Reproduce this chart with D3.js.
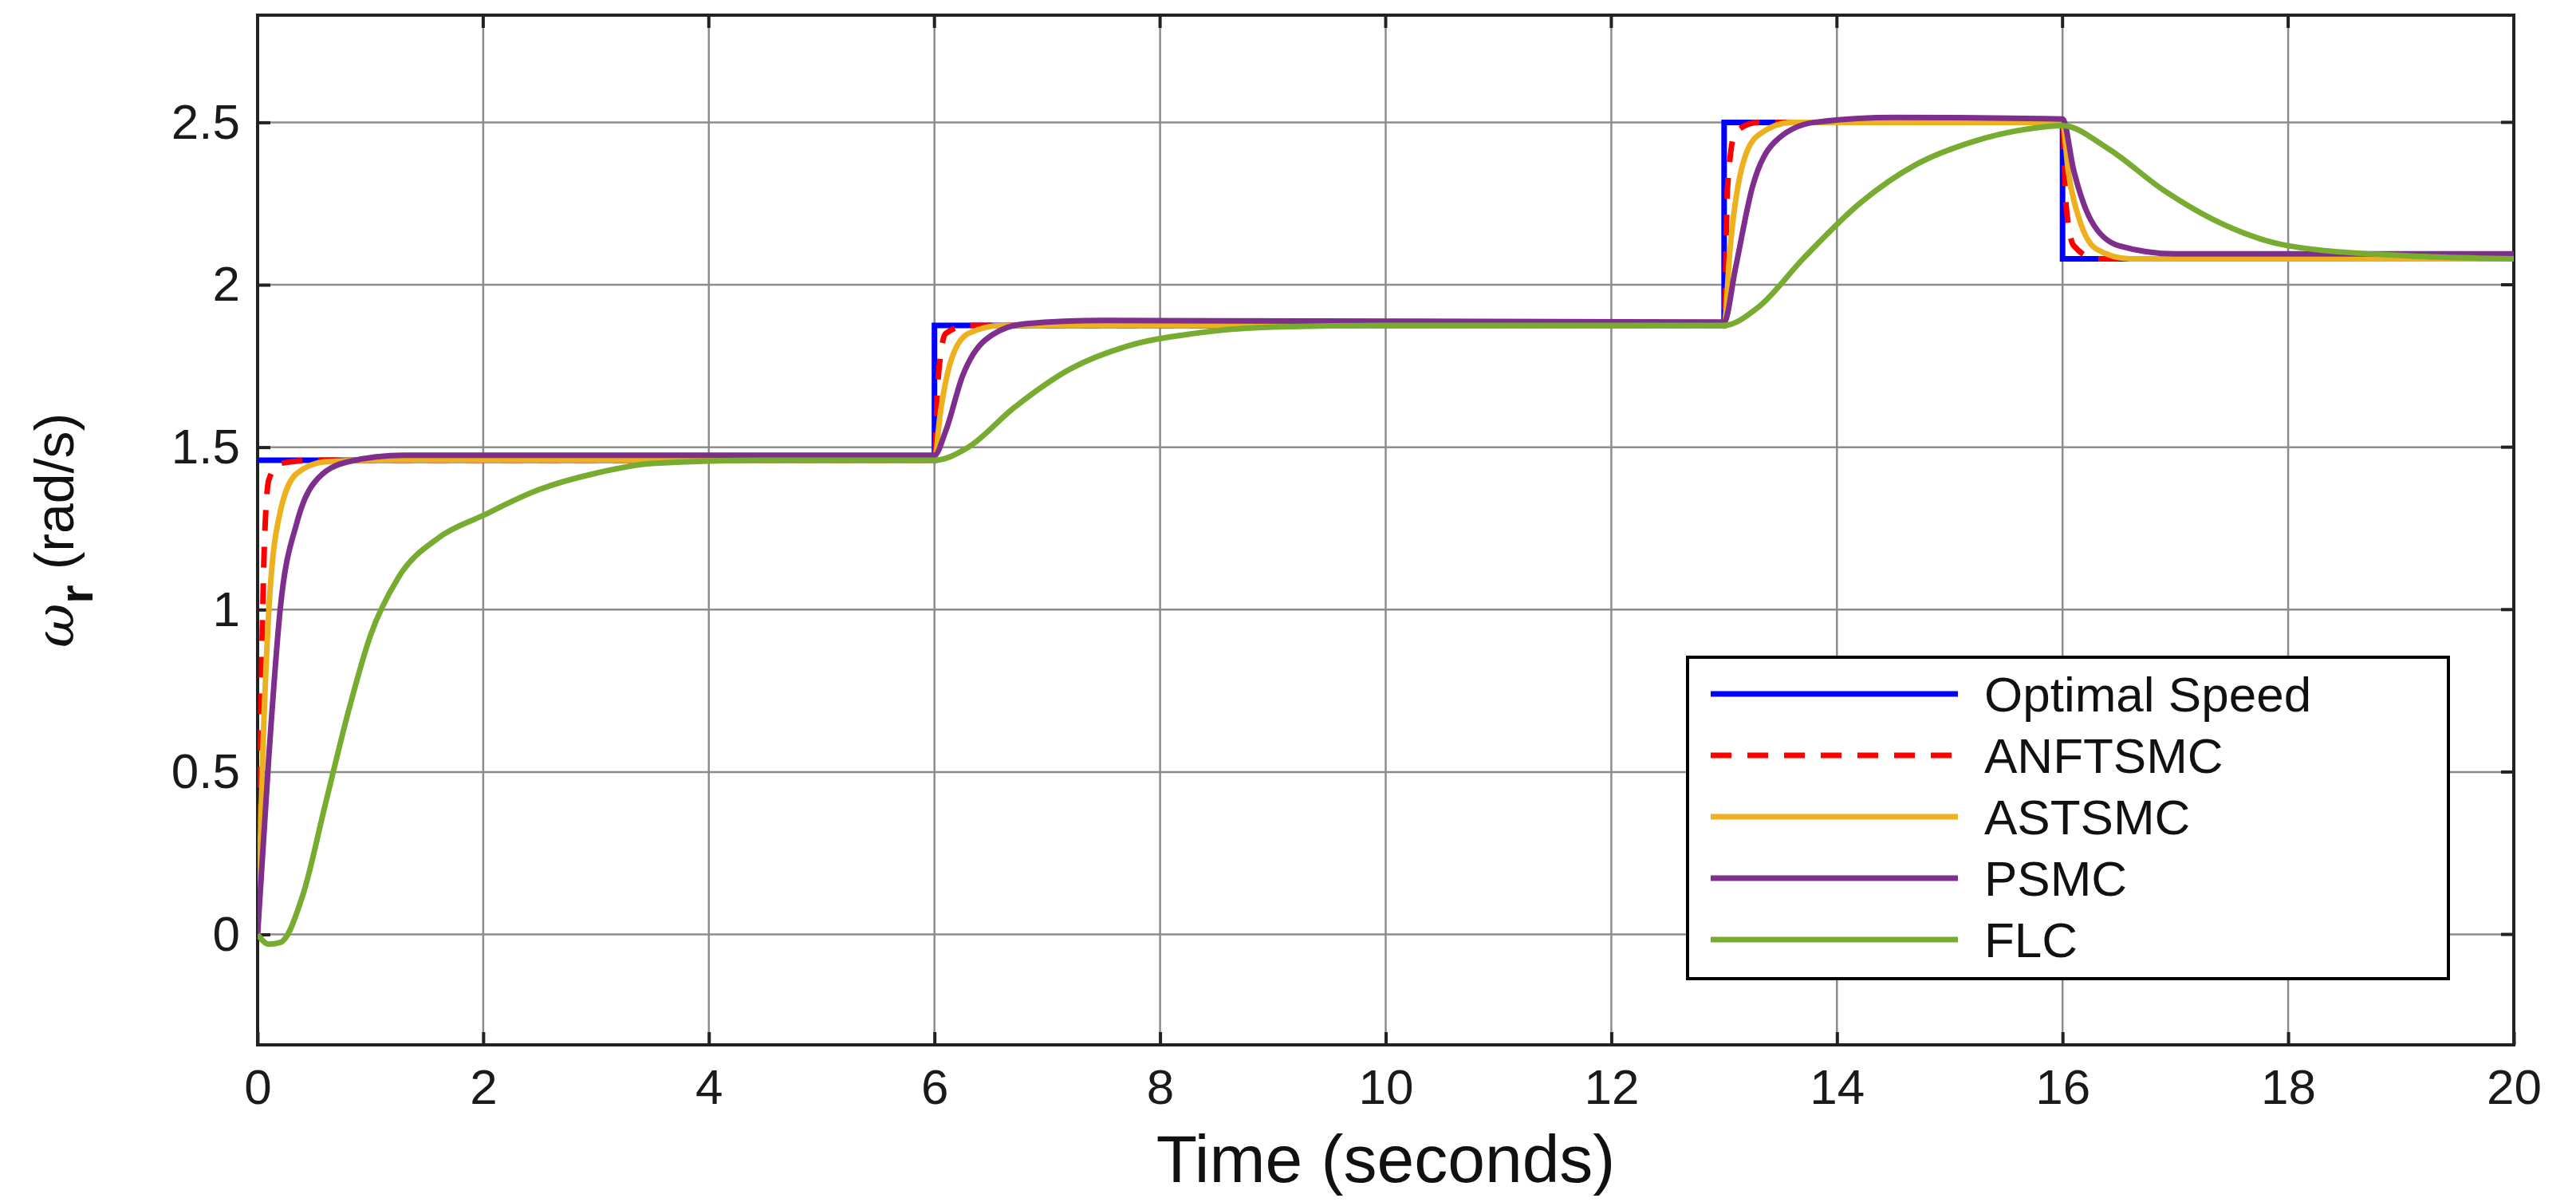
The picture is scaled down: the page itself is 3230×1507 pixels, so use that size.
<!DOCTYPE html>
<html>
<head>
<meta charset="utf-8">
<script src="https://d3js.org/d3.v7.min.js"></script>
<style>
  body { margin:0; background:#fff; }
  text { font-family: "Liberation Sans", Arial, sans-serif; }
</style>
</head>
<body>
<svg id="chart" width="3230" height="1507"></svg>
<script>
// series data, [time, value]
const optimal = [[0,1.46],[6,1.46],[6,1.875],[13,1.875],[13,2.5],[16,2.5],[16,2.08],[20,2.08]];
const anftsmc = [[0,0],[0.03,0.7],[0.06,1.2],[0.1,1.4],[0.2,1.45],[0.5,1.46],[6,1.46],[6.03,1.7],[6.1,1.85],[6.3,1.875],[13,1.875],[13.03,2.3],[13.1,2.47],[13.3,2.5],[16,2.5],[16.03,2.25],[16.1,2.12],[16.3,2.08],[20,2.08]];
const astsmc = [[0,0],[0.05,0.6],[0.1,1.0],[0.2,1.3],[0.35,1.42],[0.6,1.455],[1,1.46],[6,1.46],[6.05,1.6],[6.15,1.77],[6.3,1.85],[6.6,1.875],[13,1.875],[13.05,2.1],[13.15,2.35],[13.3,2.46],[13.6,2.5],[16,2.5],[16.05,2.35],[16.15,2.2],[16.3,2.11],[16.6,2.08],[20,2.08]];
const psmc = [[0,0],[0.1,0.55],[0.2,1.0],[0.35,1.27],[0.5,1.39],[0.8,1.455],[1.3,1.475],[6,1.475],[6.1,1.55],[6.25,1.72],[6.45,1.83],[6.8,1.88],[7.5,1.89],[13,1.885],[13.1,2.05],[13.25,2.3],[13.45,2.44],[13.8,2.5],[14.5,2.515],[16,2.51],[16.1,2.35],[16.25,2.2],[16.5,2.12],[17,2.095],[20,2.095]];
const flc = [[0,0],[0.1,-0.03],[0.2,-0.025],[0.4,0.12],[0.6,0.4],[0.8,0.68],[1,0.92],[1.25,1.1],[1.6,1.22],[2,1.29],[2.5,1.37],[3,1.42],[3.5,1.45],[4.5,1.46],[6,1.46],[6.3,1.5],[6.7,1.62],[7.2,1.74],[7.7,1.81],[8.3,1.85],[9,1.87],[10,1.875],[13,1.875],[13.3,1.93],[13.7,2.08],[14.2,2.25],[14.7,2.37],[15.2,2.44],[15.7,2.48],[16,2.49],[16.4,2.42],[16.9,2.29],[17.4,2.19],[18,2.12],[19,2.09],[20,2.08]];

const names = ['Optimal Speed','ANFTSMC','ASTSMC','PSMC','FLC'];
const xTicks = [0,2,4,6,8,10,12,14,16,18,20];
const yTicks = [0,0.5,1,1.5,2,2.5];

const svg = d3.select('#chart');
const margin = {left:323, right:78, top:19, bottom:197};
const W = 3230, H = 1507;

const x = d3.scaleLinear().domain([0,20]).range([margin.left, W-margin.right]);
const y = d3.scaleLinear().domain([-0.34,2.83]).range([H-margin.bottom, margin.top]);

// grid
svg.append('g').selectAll('line').data(xTicks.slice(1,-1)).join('line')
  .attr('x1',d=>x(d)).attr('x2',d=>x(d)).attr('y1',y.range()[1]).attr('y2',y.range()[0])
  .attr('stroke','#8c8c8c').attr('stroke-width',2.5);
svg.append('g').selectAll('line').data(yTicks).join('line')
  .attr('y1',d=>y(d)).attr('y2',d=>y(d)).attr('x1',x.range()[0]).attr('x2',x.range()[1])
  .attr('stroke','#8c8c8c').attr('stroke-width',2.5);

// axes
const xaxis = d3.axisBottom(x).tickValues(xTicks).tickSize(-16).tickPadding(30).tickFormat(d3.format('d'));
const yaxis = d3.axisLeft(y).tickValues(yTicks).tickSize(-16).tickPadding(22).tickFormat(d=>d);
const gx = svg.append('g').attr('transform',`translate(0,${y.range()[0]})`).call(xaxis);
const gy = svg.append('g').attr('transform',`translate(${x.range()[0]},0)`).call(yaxis);
[gx,gy].forEach(g=>{
  g.select('.domain').remove();
  g.selectAll('.tick line').attr('stroke','#222').attr('stroke-width',4);
  g.selectAll('.tick text').attr('font-size',62).attr('fill','#1a1a1a').attr('font-family','"Liberation Sans", Arial, sans-serif');
});
// right/top ticks
svg.append('g').selectAll('line').data(yTicks).join('line')
  .attr('x1',x.range()[1]).attr('x2',x.range()[1]-16).attr('y1',d=>y(d)).attr('y2',d=>y(d))
  .attr('stroke','#222').attr('stroke-width',4);
svg.append('g').selectAll('line').data(xTicks).join('line')
  .attr('y1',y.range()[1]).attr('y2',y.range()[1]+16).attr('x1',d=>x(d)).attr('x2',d=>x(d))
  .attr('stroke','#222').attr('stroke-width',4);

// box
svg.append('rect').attr('x',x.range()[0]).attr('y',y.range()[1])
  .attr('width',x.range()[1]-x.range()[0]).attr('height',y.range()[0]-y.range()[1])
  .attr('fill','none').attr('stroke','#222').attr('stroke-width',4);

// lines
const series = [
  {data:optimal, color:'#0000ff', dash:null, curve:d3.curveLinear},
  {data:anftsmc, color:'#ff0000', dash:'26,20', curve:d3.curveMonotoneX},
  {data:astsmc, color:'#EDB120', dash:null, curve:d3.curveMonotoneX},
  {data:psmc, color:'#7E2F8E', dash:null, curve:d3.curveMonotoneX},
  {data:flc, color:'#77AC30', dash:null, curve:d3.curveMonotoneX}
];
svg.append('clipPath').attr('id','clip').append('rect')
  .attr('x',x.range()[0]).attr('y',y.range()[1])
  .attr('width',x.range()[1]-x.range()[0]).attr('height',y.range()[0]-y.range()[1]);
const gl = svg.append('g').attr('clip-path','url(#clip)');
series.forEach(s=>{
  const line = d3.line().x(d=>x(d[0])).y(d=>y(d[1])).curve(s.curve);
  gl.append('path').attr('d',line(s.data)).attr('fill','none')
    .attr('stroke',s.color).attr('stroke-width',7)
    .attr('stroke-dasharray',s.dash);
});

// legend
const lg = svg.append('g');
lg.append('rect').attr('x',2116).attr('y',824).attr('width',954).attr('height',403)
  .attr('fill','#fff').attr('stroke','#000').attr('stroke-width',4);
names.forEach((n,i)=>{
  const yy = 870 + i*77;
  lg.append('line').attr('x1',2145).attr('x2',2455).attr('y1',yy).attr('y2',yy)
    .attr('stroke',series[i].color).attr('stroke-width',7).attr('stroke-dasharray',series[i].dash);
  lg.append('text').attr('x',2488).attr('y',yy+22).attr('font-size',62).attr('fill','#111').text(n);
});

// axis titles
svg.append('text').attr('x',(x.range()[0]+x.range()[1])/2).attr('y',1482)
  .attr('text-anchor','middle').attr('font-size',84).attr('fill','#111').text('Time (seconds)');
const yl = svg.append('text').attr('transform','translate(92,665) rotate(-90)')
  .attr('text-anchor','middle').attr('font-size',68).attr('fill','#111');
yl.append('tspan').attr('font-style','italic').attr('font-family','"DejaVu Serif", serif').text('ω');
yl.append('tspan').attr('font-size',60).attr('font-weight','bold').attr('dy',24).text('r');
yl.append('tspan').attr('dy',-24).text(' (rad/s)');
</script>
</body>
</html>
